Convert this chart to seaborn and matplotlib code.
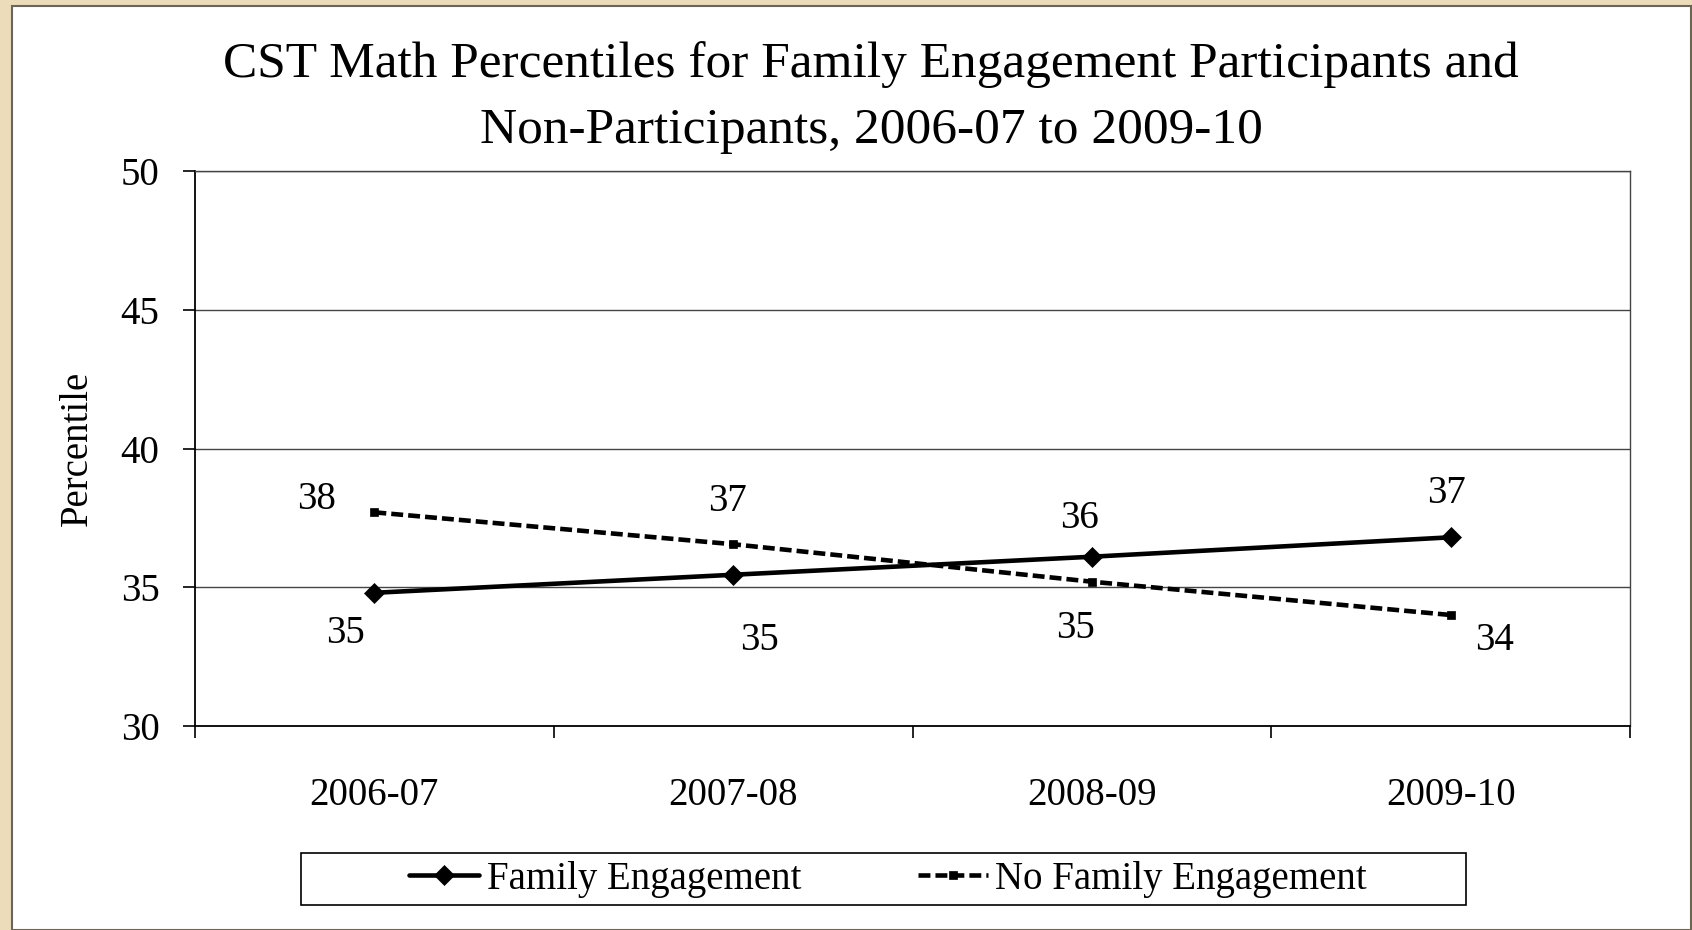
import matplotlib
matplotlib.use("Agg")
import matplotlib.pyplot as plt
import seaborn as sns
import numpy as np
import pandas as pd
from matplotlib.patches import Rectangle

# Data
years = ["2006-07", "2007-08", "2008-09", "2009-10"]
family_engagement = [34.8, 35.45, 36.1, 36.8]
no_family_engagement = [37.7, 36.55, 35.2, 34.0]
fe_labels = ["35", "35", "36", "37"]
nfe_labels = ["38", "37", "35", "34"]

# label offsets in pixels (Excel had them dragged around by hand)
fe_offsets = [(-29, -41), (26, -66), (-12, 38), (-4, 44)]
nfe_offsets = [(-58, 13), (-6, 43), (-16, -47), (44, -25)]

sns.set_theme(style="white")
plt.rcParams["font.family"] = ["Liberation Serif", "DejaVu Serif"]
plt.rcParams.update({"text.color": "black", "axes.labelcolor": "black",
                     "xtick.color": "black", "ytick.color": "black"})

FS = 28

fig = plt.figure(figsize=(16.92, 9.30), dpi=100)
fig.patch.set_facecolor("#ecdcb9")
# white slide area with grey frame
fig.add_artist(Rectangle((12 / 1692, 0), 1 - 13 / 1692, 1 - 6 / 930, transform=fig.transFigure,
                         facecolor="white", edgecolor="#6e6655", linewidth=1.5, zorder=-1))

ax = fig.add_axes([195 / 1692, 1 - 726 / 930, (1630 - 195) / 1692, (726 - 171) / 930])
ax.set_facecolor("none")

x = np.arange(len(years))
df = pd.DataFrame({"x": np.concatenate([x, x]),
                   "value": family_engagement + no_family_engagement,
                   "group": ["Family Engagement"] * len(years) + ["No Family Engagement"] * len(years)})

sns.lineplot(data=df[df.group == "Family Engagement"], x="x", y="value", ax=ax,
             color="black", linewidth=3.3, marker="D", markersize=10,
             markeredgecolor="black", markeredgewidth=0.5,
             label="Family Engagement", zorder=3)
sns.lineplot(data=df[df.group == "No Family Engagement"], x="x", y="value", ax=ax,
             color="black", linewidth=3.3, linestyle=(0, (2.6, 1.1)), marker="s", markersize=6,
             markeredgecolor="black", markeredgewidth=0.5,
             label="No Family Engagement", zorder=3)

for xi, v, lab, off in zip(x, family_engagement, fe_labels, fe_offsets):
    ax.annotate(lab, (xi, v), xytext=off, textcoords="offset pixels",
                ha="center", va="center", fontsize=FS)
for xi, v, lab, off in zip(x, no_family_engagement, nfe_labels, nfe_offsets):
    ax.annotate(lab, (xi, v), xytext=off, textcoords="offset pixels",
                ha="center", va="center", fontsize=FS)

ax.set_xlim(-0.5, len(years) - 0.5)
ax.set_ylim(30, 50)
ax.set_yticks([30, 35, 40, 45, 50])
ax.yaxis.grid(True, color="#444444", linewidth=1.0)
ax.set_axisbelow(True)

# category ticks between groups, labels centred under groups
ax.set_xticks(np.arange(-0.5, len(years), 1.0))
ax.set_xticklabels([])
ax.set_xticks(x, minor=True)
ax.set_xticklabels(years, minor=True, fontsize=FS)
ax.tick_params(axis="x", which="major", direction="out", length=8.6, width=1.2, color="black", bottom=True)
ax.tick_params(axis="x", which="minor", length=0, pad=37)
ax.tick_params(axis="y", direction="out", length=8.6, width=1.2, color="black", left=True, pad=17, labelsize=FS)

for side in ["left", "bottom"]:
    ax.spines[side].set_color("black")
    ax.spines[side].set_linewidth(1.3)
for side in ["top", "right"]:
    ax.spines[side].set_visible(True)
    ax.spines[side].set_color("#444444")
    ax.spines[side].set_linewidth(1.0)

ax.set_xlabel("")
ax.set_ylabel("Percentile", fontsize=FS, labelpad=18)

fig.text(871 / 1692, 1 - 98 / 930,
         "CST Math Percentiles for Family Engagement Participants and\nNon-Participants, 2006-07 to 2009-10",
         ha="center", va="center", fontsize=37, linespacing=1.55)

# legend box drawn separately, the Excel one has wide side margins
ax.add_patch(Rectangle((301 / 1692, 1 - 905 / 930), (1466 - 301) / 1692, 52 / 930,
                       transform=fig.transFigure, facecolor="white", edgecolor="black",
                       linewidth=1.2, zorder=4, clip_on=False))
leg = ax.legend(loc="center", bbox_to_anchor=((888 - 195) / (1630 - 195), -(879 - 726) / (726 - 171)),
                ncol=2, fontsize=FS, frameon=False,
                handlelength=1.8, handletextpad=0.2, columnspacing=3.0, borderpad=0.2)
leg.set_zorder(6)

fig.savefig("out.png", dpi=100, facecolor=fig.get_facecolor())
